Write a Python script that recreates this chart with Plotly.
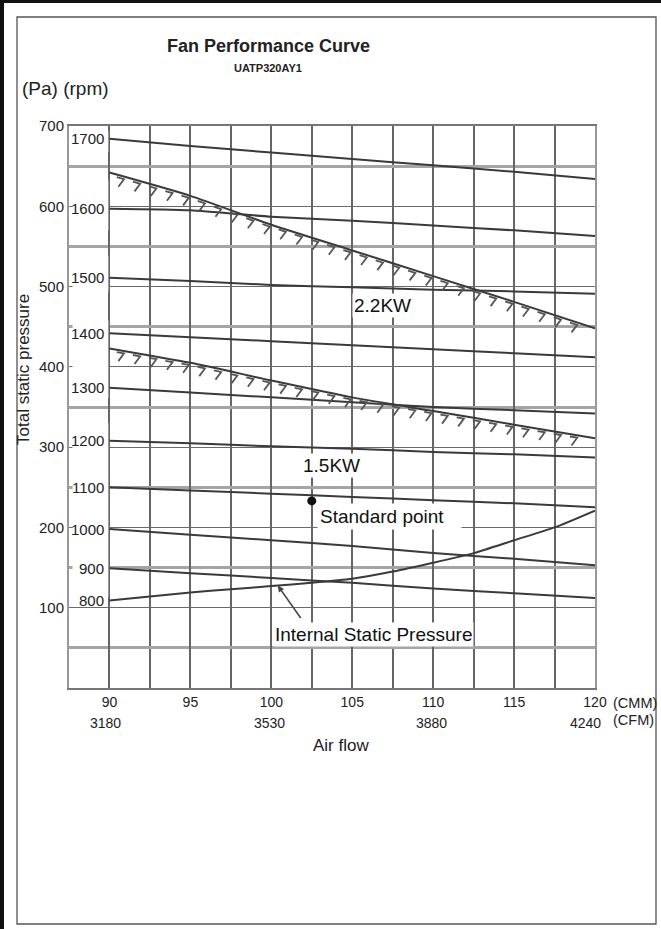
import numpy as np
import plotly.graph_objects as go

# ---- data -------------------------------------------------------------
airflow_cmm = [90, 95, 100, 105, 110, 115, 120]

# static pressure (Pa) of each fan-speed curve at the airflow points above
rpm_1700 = [684, 675, 667, 659, 651, 643, 634]
rpm_1600 = [597, 595, 587, 582, 576, 570, 563]
rpm_1500 = [511, 507, 502, 499, 496, 494, 491]
rpm_1400 = [442, 437, 432, 427, 422, 417, 412]
rpm_1300 = [374, 368, 362, 356, 350, 346, 342]
rpm_1200 = [308, 305, 301, 298, 294, 291, 287]
rpm_1100 = [250, 246, 242, 238, 234, 230, 225]
rpm_1000 = [198, 191, 184, 177, 168, 161, 153]
rpm_900 = [149, 143, 137, 131, 124, 118, 112]

rpm_labels = ["1700", "1600", "1500", "1400", "1300", "1200", "1100", "1000", "900", "800"]

# motor power limits
kw22_pa = [642, 613, 577, 545, 513, 481, 448]
kw15_pa = [423, 405, 383, 362, 345, 328, 311]

# internal static pressure of the unit
isp_cmm = [90, 92.5, 95, 97.5, 100, 102.5, 105, 107.5, 110, 112.5, 115, 117.5, 120]
isp_pa = [109, 114, 119, 123, 127, 131, 136, 145, 156, 168, 184, 200, 221]

std_cmm = 102.5
std_pa = 233

cmm_ticks = [90, 95, 100, 105, 110, 115, 120]
cfm_at_cmm = [90, 100, 110, 120]
cfm_labels = ["3180", "3530", "3880", "4240"]
pa_ticks = [100, 200, 300, 400, 500, 600, 700]

# ---- layout constants -------------------------------------------------
W, H = 661, 929
ML, MR, MT, MB = 69, 66, 126, 241
PW, PH = W - ML - MR, H - MT - MB
FONT = "Liberation Sans, Arial, sans-serif"
INK = "#3a3a3a"
TXT = "#222"


def px(x):
    return (x - ML) / PW


def py(y):
    return (H - MB - y) / PH


def hatch(xs, ys, start, stop, step):
    """Short '7'-shaped ticks hanging under a limit line."""
    hx, hy = [], []
    for x0 in np.arange(start, stop, step):
        y0 = float(np.interp(x0, xs, ys))
        ya = float(np.interp(x0 - 0.35, xs, ys)) - 3
        yb = float(np.interp(x0 + 0.1, xs, ys)) - 3
        hx += [x0 - 0.35, x0 + 0.1, x0 - 0.25, None]
        hy += [ya, yb, y0 - 13, None]
    return hx, hy


fig = go.Figure()

rpm_curves = [rpm_1700, rpm_1600, rpm_1500, rpm_1400, rpm_1300,
              rpm_1200, rpm_1100, rpm_1000, rpm_900]
for name, ys in zip(rpm_labels, rpm_curves):
    fig.add_trace(go.Scatter(x=airflow_cmm, y=ys, mode="lines", name=name + " rpm",
                             line=dict(color=INK, width=2, shape="spline", smoothing=0.6),
                             hoverinfo="skip"))

fig.add_trace(go.Scatter(x=isp_cmm, y=isp_pa, mode="lines", name="Internal static pressure",
                         line=dict(color=INK, width=2, shape="spline", smoothing=0.6),
                         hoverinfo="skip"))

for ys, nm in [(kw22_pa, "2.2KW"), (kw15_pa, "1.5KW")]:
    fig.add_trace(go.Scatter(x=airflow_cmm, y=ys, mode="lines", name=nm,
                             line=dict(color=INK, width=2, shape="spline", smoothing=0.6),
                             hoverinfo="skip"))
    hx, hy = hatch(airflow_cmm, ys, 90.8, 119.7, 1.0)
    fig.add_trace(go.Scatter(x=hx, y=hy, mode="lines", line=dict(color="#555", width=1.8),
                             hoverinfo="skip", showlegend=False))

fig.add_trace(go.Scatter(x=[std_cmm], y=[std_pa], mode="markers", name="Standard point",
                         marker=dict(color="#111", size=9), hoverinfo="skip"))

# ---- annotations ------------------------------------------------------
ann = []

# rpm labels sit just left of each curve's start
rpm_start = [c[0] for c in rpm_curves] + [isp_pa[0]]
for lab, y0 in zip(rpm_labels, rpm_start):
    ann.append(dict(x=89.8, y=y0, xref="x", yref="y", text=lab, showarrow=False,
                    xanchor="right", yanchor="middle",
                    font=dict(family=FONT, size=15, color=TXT)))


def paper_text(x, y, text, size, xanchor="center", **kw):
    d = dict(x=px(x), y=py(y), xref="paper", yref="paper", text=text, showarrow=False,
             xanchor=xanchor, yanchor="middle", font=dict(family=FONT, size=size, color=TXT))
    d.update(kw)
    return d


ann += [
    paper_text(268, 46, "<b>Fan Performance Curve</b>", 18),
    paper_text(268, 68, "<b>UATP320AY1</b>", 11),
    paper_text(20, 88, "(Pa) (rpm)", 19, xanchor="left"),
    paper_text(23, 370, "Total static pressure", 17, textangle=-90),
    paper_text(341, 745, "Air flow", 17),
    paper_text(611, 703, "(CMM)", 14.5, xanchor="left"),
    paper_text(611, 720, "(CFM)", 14.5, xanchor="left"),
]

# CFM row under the CMM tick labels
cfm_shift = [-4, -2, -2, -10]
for xc, lab, sh in zip(cfm_at_cmm, cfm_labels, cfm_shift):
    ann.append(dict(x=xc, y=py(723), xref="x", yref="paper", text=lab, showarrow=False,
                    xanchor="center", yanchor="middle", xshift=sh,
                    font=dict(family=FONT, size=14, color=TXT)))

# in-plot labels with white backing
lab_font = dict(family=FONT, size=19, color="#111")
ann += [
    dict(x=106.9, y=476, xref="x", yref="y", text="2.2KW", showarrow=False,
         xanchor="center", yanchor="middle", bgcolor="white", font=lab_font),
    dict(x=103.7, y=277, xref="x", yref="y", text="1.5KW", showarrow=False,
         xanchor="center", yanchor="middle", bgcolor="white", font=lab_font),
    dict(x=102.8, y=214, xref="x", yref="y", text="Standard point   ", showarrow=False,
         xanchor="left", yanchor="middle", bgcolor="white", font=lab_font, borderpad=2),
    dict(x=106.3, y=67, xref="x", yref="y", text="Internal Static Pressure", showarrow=False,
         xanchor="center", yanchor="middle", bgcolor="white", font=lab_font),
    dict(x=100.4, y=float(np.interp(100.4, isp_cmm, isp_pa)), xref="x", yref="y", text="",
         showarrow=True, ax=24, ay=34, arrowhead=2, arrowsize=0.8, arrowwidth=1.6,
         arrowcolor="#444"),
]

# ---- shapes: frames and white label columns ---------------------------
shapes = [
    dict(type="rect", xref="paper", yref="paper", x0=px(17), x1=px(656), y0=py(924), y1=py(17),
         line=dict(color="#555", width=1.3), layer="below"),
    dict(type="line", xref="paper", yref="paper", x0=px(2), x1=px(2), y0=py(929), y1=py(0),
         line=dict(color="#111", width=4)),
    dict(type="line", xref="paper", yref="paper", x0=px(0), x1=px(661), y0=py(1.5), y1=py(1.5),
         line=dict(color="#111", width=3)),
]
for top, bot in [(694, 668), (632, 570), (539, 493), (458, 361), (330, 113)]:
    shapes.append(dict(type="rect", xref="x", yref="y", x0=87.72, x1=89.93, y0=bot, y1=top,
                       fillcolor="white", line=dict(width=0), layer="above"))

fig.update_layout(
    width=W, height=H,
    margin=dict(l=ML, r=MR, t=MT, b=MB),
    paper_bgcolor="white", plot_bgcolor="white",
    showlegend=False,
    annotations=ann,
    shapes=shapes,
    xaxis=dict(range=[87.5, 120], tickvals=cmm_ticks, ticktext=[str(v) for v in cmm_ticks],
               ticks="", tickfont=dict(family=FONT, size=14, color=TXT),
               showgrid=True, gridcolor="#666", gridwidth=1.6,
               minor=dict(tickvals=[87.5, 92.5, 97.5, 102.5, 107.5, 112.5, 117.5],
                          showgrid=True, gridcolor="#666", gridwidth=1.6),
               showline=True, mirror=True, linecolor="#777", linewidth=1.5,
               zeroline=False, fixedrange=True),
    yaxis=dict(range=[0, 700], tickvals=pa_ticks, ticks="",
               tickfont=dict(family=FONT, size=15, color=TXT),
               showgrid=True, gridcolor="#6a6a6a", gridwidth=1.4,
               minor=dict(tickvals=[50, 150, 250, 350, 450, 550, 650],
                          showgrid=True, gridcolor="#a5a5a5", gridwidth=3),
               showline=True, mirror=True, linecolor="#999", linewidth=2,
               zeroline=False, fixedrange=True),
)

fig.write_html("out.html")
